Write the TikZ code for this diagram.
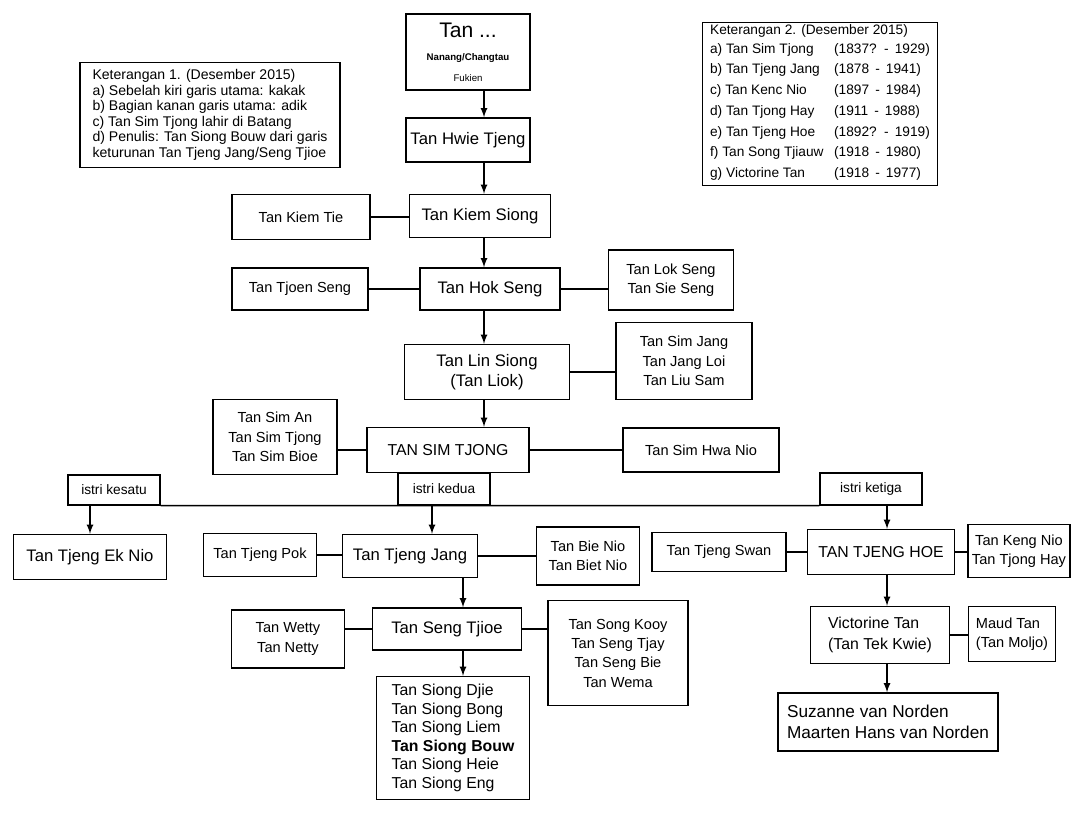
\documentclass[tikz,border=0pt]{standalone}
\usepackage{fontspec}
\setmainfont{Liberation Sans}
\usetikzlibrary{positioning}
\begin{document}
\begin{tikzpicture}[x=0.02cm,y=-0.02cm,
    box/.style={draw, line width=0.8pt, inner sep=1pt, align=center,
                font=\fontsize{9.5}{11.5}\selectfont},
    side/.style={box, font=\fontsize{8.3}{11}\selectfont},
    label/.style={box, font=\fontsize{7.8}{9}\selectfont},
    note/.style={draw, line width=0.8pt, inner sep=1pt, align=left},
    arr/.style={-latex, line width=0.8pt},
    link/.style={line width=0.8pt}]
    \useasboundingbox (0,0) rectangle (1089,827);
    % notes
    \node[note, minimum width=5.2cm, minimum height=2.1cm,
          font=\fontsize{8}{8.8}\selectfont] (ket1) at (210,115)
      {Keterangan 1. (Desember 2015)\\
       a) Sebelah kiri garis utama: kakak\\
       b) Bagian kanan garis utama: adik\\
       c) Tan Sim Tjong lahir di Batang\\
       d) Penulis: Tan Siong Bouw dari garis\\
       keturunan Tan Tjeng Jang/Seng Tjioe};
    \node[note, minimum width=4.7cm, minimum height=3.2cm,
          font=\fontsize{7.8}{11.8}\selectfont] (ket2) at (820,104)
      {Keterangan 2. (Desember 2015)\\
       \begin{tabular}{@{}l@{\hspace{6pt}}l@{}}
       a) Tan Sim Tjong & (1837? \,-\, 1929)\\
       b) Tan Tjeng Jang & (1878 \,-\, 1941)\\
       c) Tan Kenc Nio & (1897 \,-\, 1984)\\
       d) Tan Tjong Hay & (1911 \,-\, 1988)\\
       e) Tan Tjeng Hoe & (1892? \,-\, 1919)\\
       f) Tan Song Tjiauw & (1918 \,-\, 1980)\\
       g) Victorine Tan & (1918 \,-\, 1977)
       \end{tabular}};
    % main line
    \coordinate (spine) at (484,0);
    \node[box, minimum width=2.48cm, minimum height=1.52cm] (top) at (468,52)
      {{\fontsize{12}{14}\selectfont Tan ...}\\[2pt]
       {\fontsize{5.5}{7}\selectfont\bfseries Nanang/Changtau}\\
       {\fontsize{5.5}{7}\selectfont Fukien}};
    \node[box, minimum width=2.48cm, minimum height=0.88cm] (hwie) at (468,140) {Tan Hwie Tjeng};
    \node[box, minimum width=2.82cm, minimum height=0.86cm] (kiemsiong) at (480,216) {Tan Kiem Siong};
    \node[side, minimum width=2.76cm, minimum height=0.9cm] (kiemtie) at (301,217) {Tan Kiem Tie};
    \node[box, minimum width=2.8cm, minimum height=0.84cm] (hokseng) at (490,289) {Tan Hok Seng};
    \node[side, minimum width=2.72cm, minimum height=0.84cm] (tjoenseng) at (300,289) {Tan Tjoen Seng};
    \node[side, minimum width=2.5cm, minimum height=1.2cm] (lokseng) at (671,280) {Tan Lok Seng\\Tan Sie Seng};
    \node[box, minimum width=3.3cm, minimum height=1.1cm] (linsiong) at (487,372) {Tan Lin Siong\\(Tan Liok)};
    \node[side, minimum width=2.72cm, minimum height=1.54cm] (simjang) at (684,361) {Tan Sim Jang\\Tan Jang Loi\\Tan Liu Sam};
    \node[box, minimum width=3.24cm, minimum height=0.9cm,
          font=\fontsize{9}{11}\selectfont] (simtjong) at (448,450) {TAN SIM TJONG};
    \node[side, minimum width=2.48cm, minimum height=1.5cm] (siman) at (275,437) {Tan Sim An\\Tan Sim Tjong\\Tan Sim Bioe};
    \node[side, minimum width=3.12cm, minimum height=0.88cm] (simhwa) at (701,450) {Tan Sim Hwa Nio};
    \draw[arr] (top.south -| spine) -- (hwie.north -| spine);
    \draw[arr] (hwie.south -| spine) -- (kiemsiong.north -| spine);
    \draw[arr] (kiemsiong.south -| spine) -- (hokseng.north -| spine);
    \draw[arr] (hokseng.south -| spine) -- (linsiong.north -| spine);
    \draw[arr] (linsiong.south -| spine) -- (simtjong.north -| spine);
    \draw[link] (kiemtie.east) -- (kiemtie.east -| kiemsiong.west);
    \draw[link] (tjoenseng.east) -- (tjoenseng.east -| hokseng.west);
    \draw[link] (hokseng.east) -- (hokseng.east -| lokseng.west);
    \draw[link] (linsiong.east) -- (linsiong.east -| simjang.west);
    \draw[link] (simtjong.west) -- (simtjong.west -| siman.east);
    \draw[link] (simtjong.east) -- (simtjong.east -| simhwa.west);
    % wives
    \node[label, minimum width=1.84cm, minimum height=0.6cm] (kesatu) at (114,490) {istri kesatu};
    \node[label, minimum width=1.84cm, minimum height=0.64cm] (kedua) at (444,489) {istri kedua};
    \node[label, minimum width=2.04cm, minimum height=0.64cm] (ketiga) at (871,489) {istri ketiga};
    \draw[link] (kesatu.south east) -- (ketiga.south west);
    % children
    \coordinate (colb) at (432,0);
    \coordinate (colc) at (463,0);
    \coordinate (cold) at (887,0);
    \node[box, minimum width=3.06cm, minimum height=0.9cm] (eknio) at (90,557) {Tan Tjeng Ek Nio};
    \node[box, minimum width=2.7cm, minimum height=0.86cm] (tjengjang) at (410,556) {Tan Tjeng Jang};
    \node[side, minimum width=2.26cm, minimum height=0.86cm] (tjengpok) at (260,555) {Tan Tjeng Pok};
    \node[side, minimum width=2.06cm, minimum height=1.16cm] (bienio) at (588,556) {Tan Bie Nio\\Tan Biet Nio};
    \node[box, minimum width=2.94cm, minimum height=0.9cm,
          font=\fontsize{9}{11}\selectfont] (tjenghoe) at (881,552) {TAN TJENG HOE};
    \node[side, minimum width=2.68cm, minimum height=0.78cm] (tjengswan) at (719,552) {Tan Tjeng Swan};
    \node[side, minimum width=2.04cm, minimum height=1.06cm] (kengnio) at (1019,551) {Tan Keng Nio\\Tan Tjong Hay};
    \draw[arr] (kesatu.south -| eknio.north) -- (eknio.north);
    \draw[arr] (kedua.south -| colb) -- (tjengjang.north -| colb);
    \draw[arr] (ketiga.south -| cold) -- (tjenghoe.north -| cold);
    \draw[link] (tjengpok.east) -- (tjengpok.east -| tjengjang.west);
    \draw[link] (tjengjang.east) -- (tjengjang.east -| bienio.west);
    \draw[link] (tjengswan.east) -- (tjengswan.east -| tjenghoe.west);
    \draw[link] (tjenghoe.east) -- (tjenghoe.east -| kengnio.west);
    % grandchildren
    \node[box, minimum width=2.98cm, minimum height=0.84cm] (sengtjioe) at (447,629) {Tan Seng Tjioe};
    \node[side, minimum width=2.26cm, minimum height=1.16cm] (wetty) at (288,639) {Tan Wetty\\Tan Netty};
    \node[side, minimum width=2.8cm, minimum height=2.1cm] (songkooy) at (618,653)
      {Tan Song Kooy\\Tan Seng Tjay\\Tan Seng Bie\\Tan Wema};
    \node[side, minimum width=3.06cm, minimum height=2.46cm, align=left,
          font=\fontsize{9}{10.5}\selectfont] (siongs) at (453,738)
      {Tan Siong Djie\\Tan Siong Bong\\Tan Siong Liem\\\textbf{Tan Siong Bouw}\\Tan Siong Heie\\Tan Siong Eng};
    \node[side, minimum width=2.78cm, minimum height=1.14cm, align=left,
          font=\fontsize{9}{12}\selectfont] (victorine) at (880,635) {Victorine Tan\\(Tan Tek Kwie)};
    \node[side, minimum width=1.74cm, minimum height=1.1cm, align=left] (maud) at (1012,634) {Maud Tan\\(Tan Moljo)};
    \node[side, minimum width=4.4cm, minimum height=1.16cm, align=left,
          font=\fontsize{9.8}{12}\selectfont] (suzanne) at (888,722) {Suzanne van Norden\\Maarten Hans van Norden};
    \draw[arr] (tjengjang.south -| colc) -- (sengtjioe.north -| colc);
    \draw[arr] (sengtjioe.south -| colc) -- (siongs.north -| colc);
    \draw[arr] (tjenghoe.south -| cold) -- (victorine.north -| cold);
    \draw[arr] (victorine.south -| cold) -- (suzanne.north -| cold);
    \draw[link] (wetty.east |- sengtjioe.west) -- (sengtjioe.west);
    \draw[link] (sengtjioe.east) -- (sengtjioe.east -| songkooy.west);
    \draw[link] (victorine.east) -- (victorine.east -| maud.west);
\end{tikzpicture}
\end{document}
